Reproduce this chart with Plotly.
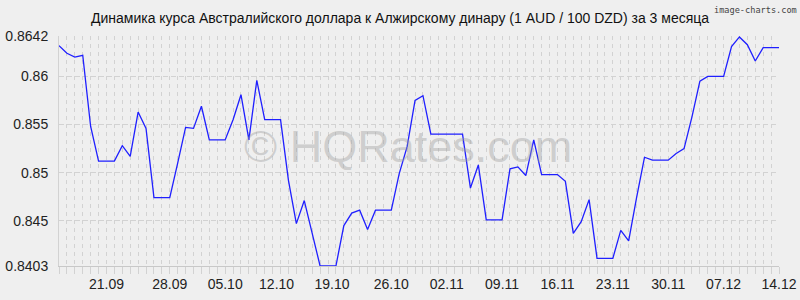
import plotly.graph_objects as go

# day index 0..91 (one point per day)
values = [
    0.8632, 0.8624, 0.8620, 0.8622, 0.8548, 0.8512, 0.8512, 0.8512, 0.8528, 0.8517,
    0.8563, 0.8546, 0.8474, 0.8474, 0.8474, 0.8510, 0.8547, 0.8546, 0.8569, 0.8534,
    0.8534, 0.8534, 0.8555, 0.8581, 0.8534, 0.8596, 0.8555, 0.8555, 0.8555, 0.8492,
    0.8447, 0.8471, 0.8437, 0.8403, 0.8403, 0.8403, 0.8445, 0.8458, 0.8461, 0.8441,
    0.8461, 0.8461, 0.8461, 0.8499, 0.8527, 0.8575, 0.8580, 0.8540, 0.8540, 0.8540,
    0.8540, 0.8540, 0.8484, 0.8508, 0.8451, 0.8451, 0.8451, 0.8504, 0.8506, 0.8497,
    0.8534, 0.8498, 0.8498, 0.8498, 0.8491, 0.8437, 0.8449, 0.8472, 0.8411, 0.8411,
    0.8411, 0.8440, 0.8429, 0.8474, 0.8516, 0.8513, 0.8513, 0.8513, 0.8520, 0.8525,
    0.8558, 0.8595, 0.8600, 0.8600, 0.8600, 0.8631, 0.8641, 0.8633, 0.8616, 0.8630,
    0.8630, 0.8630,
]
days = list(range(len(values)))

x_label_pos = [6, 14, 21, 27.5, 34.5, 42, 49, 56, 63, 70, 77, 84, 91]
x_labels = ["21.09", "28.09", "05.10", "12.10", "19.10", "26.10", "02.11",
            "09.11", "16.11", "23.11", "30.11", "07.12", "14.12"]
y_ticks = [0.8403, 0.845, 0.85, 0.855, 0.86, 0.8642]
y_labels = ["0.8403", "0.845", "0.85", "0.855", "0.86", "0.8642"]

title = "Динамика курса Австралийского доллара к Алжирскому динару (1 AUD / 100 DZD) за 3 месяца"

BG = "#efefef"
GRID = "#d2d2d2"
FONT = "Liberation Sans, Arial, sans-serif"

fig = go.Figure()
fig.add_trace(go.Scatter(
    x=days, y=values, mode="lines",
    line=dict(color="#1f1fff", width=1.3),
    hoverinfo="skip", showlegend=False,
))
# invisible trace to carry the label axis
fig.add_trace(go.Scatter(
    x=days, y=values, mode="lines", xaxis="x2",
    line=dict(color="rgba(0,0,0,0)", width=0),
    hoverinfo="skip", showlegend=False,
))

fig.update_layout(
    width=800, height=300,
    margin=dict(l=59, r=21, t=36, b=34, autoexpand=False),
    paper_bgcolor=BG, plot_bgcolor=BG,
    font=dict(family=FONT, size=14, color="#222"),
    title=dict(text=title, x=0.5, xanchor="center", y=0.94, yanchor="middle",
               font=dict(family=FONT, size=14, color="#111")),
    xaxis=dict(
        range=[0, 91], tickvals=days, showticklabels=False,
        showgrid=True, gridcolor=GRID, griddash="4px,4px", gridwidth=1,
        ticks="outside", ticklen=7, tickcolor=GRID,
        showline=True, linecolor="#c8c8c8", linewidth=1,
        zeroline=False, fixedrange=True, automargin=False,
    ),
    xaxis2=dict(
        range=[0, 91], overlaying="x", side="bottom",
        tickvals=x_label_pos, ticktext=x_labels,
        showgrid=False, ticks="", showline=False, zeroline=False,
        tickfont=dict(family=FONT, size=14, color="#222"),
        ticklabelstandoff=8, automargin=False,
    ),
    yaxis=dict(
        range=[0.8403, 0.8642], tickvals=y_ticks, ticktext=y_labels,
        showgrid=True, gridcolor=GRID, griddash="5px,3px", gridwidth=1,
        ticks="outside", ticklen=7, tickcolor=BG,
        showline=True, linecolor=GRID, linewidth=1,
        zeroline=False, fixedrange=True, automargin=False,
        tickfont=dict(family=FONT, size=14, color="#222"),
    ),
    annotations=[
        dict(text="© HQRates.com", xref="paper", yref="paper", x=0.485, y=0.52,
             xanchor="center", yanchor="middle", showarrow=False,
             font=dict(family=FONT, size=45, color="rgba(160,160,160,0.42)")),
        dict(text="image-charts.com", xref="paper", yref="paper", x=1.028, y=1 + 26/230,
             xanchor="right", yanchor="middle", showarrow=False,
             font=dict(family="DejaVu Sans Mono", size=8.6, color="#444")),
    ],
)

fig.write_html("out.html")
